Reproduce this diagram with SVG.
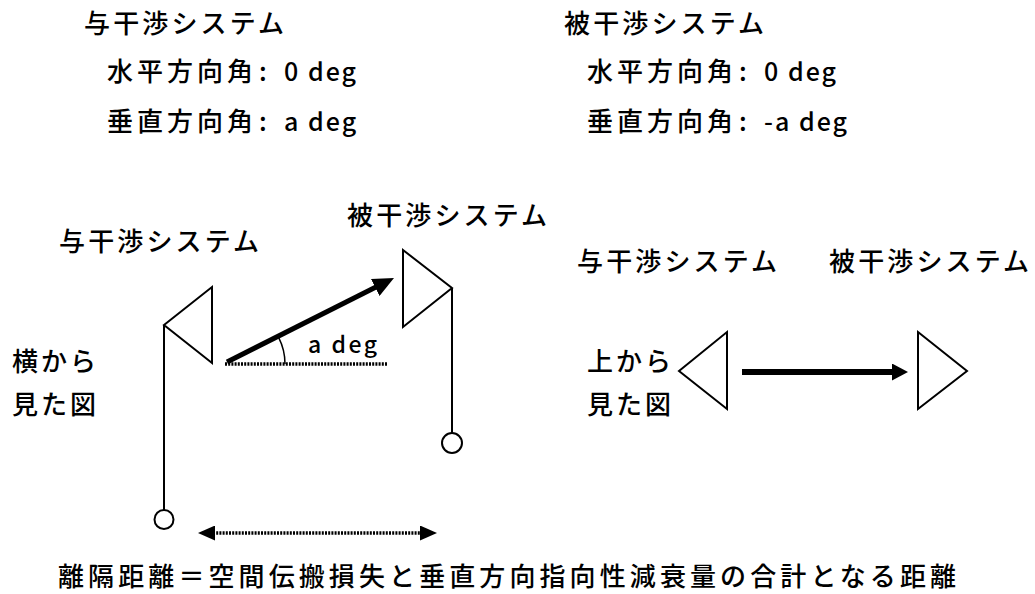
<svg xmlns="http://www.w3.org/2000/svg" width="1035" height="594" viewBox="0 0 1035 594">
  <style>
    text { font-family: "Noto Sans CJK JP", "Noto Sans", sans-serif; fill: #000; font-weight: 500; }
    .jp { font-size: 26px; letter-spacing: 4px; }
    .lat { font-size: 25px; letter-spacing: 2px; }
    .ant { fill: #fff; stroke: #000; stroke-width: 2; stroke-linejoin: miter; }
    .mast { stroke: #000; stroke-width: 2; fill: none; }
    .thick { stroke: #000; stroke-width: 5; fill: none; }
    .dots { stroke: #000; stroke-width: 3.5; stroke-dasharray: 2 1.2; fill: none; }
  </style>
  <defs>
    <marker id="headBig" markerUnits="userSpaceOnUse" viewBox="0 0 21 19" refX="2" refY="9.5" markerWidth="21" markerHeight="19" orient="auto">
      <path d="M0,0 L21,9.5 L0,19 Z" fill="#000"/>
    </marker>
    <marker id="headMid" markerUnits="userSpaceOnUse" viewBox="0 0 16 17" refX="2" refY="8.5" markerWidth="16" markerHeight="17" orient="auto">
      <path d="M0,0 L16,8.5 L0,17 Z" fill="#000"/>
    </marker>
    <marker id="headDot" markerUnits="userSpaceOnUse" viewBox="0 0 17 15" refX="2" refY="7.5" markerWidth="17" markerHeight="15" orient="auto-start-reverse">
      <path d="M0,0 L17,7.5 L0,15 Z" fill="#000"/>
    </marker>
  </defs>

  <g id="info-interferer">
    <text class="jp" x="84" y="33" textLength="200" lengthAdjust="spacing" style="letter-spacing:0">与干渉システム</text>
    <text y="81"><tspan class="jp" x="107">水平方向角</tspan><tspan class="jp" x="259">: </tspan><tspan class="lat" x="284">0 deg</tspan></text>
    <text y="131"><tspan class="jp" x="107">垂直方向角</tspan><tspan class="jp" x="259">: </tspan><tspan class="lat" x="284">a deg</tspan></text>
  </g>

  <g id="info-victim">
    <text class="jp" x="564" y="33" textLength="200" lengthAdjust="spacing" style="letter-spacing:0">被干渉システム</text>
    <text y="81"><tspan class="jp" x="587">水平方向角</tspan><tspan class="jp" x="739">: </tspan><tspan class="lat" x="764">0 deg</tspan></text>
    <text y="131"><tspan class="jp" x="587">垂直方向角</tspan><tspan class="jp" x="739">: </tspan><tspan class="lat" x="764">-a deg</tspan></text>
  </g>

  <g id="side-label">
    <text class="jp" x="12" y="371" style="letter-spacing:3px">横から</text>
    <text class="jp" x="12" y="414" style="letter-spacing:3px">見た図</text>
  </g>

  <g id="side-interferer">
    <text class="jp" x="59" y="251" textLength="200" lengthAdjust="spacing" style="letter-spacing:0">与干渉システム</text>
    <polygon class="ant" points="164,325 212,287 212,363"/>
    <line class="mast" x1="164" y1="325" x2="164" y2="510"/>
    <circle class="mast" cx="164" cy="519.5" r="9.5"/>
  </g>

  <g id="side-victim">
    <text class="jp" x="347" y="225" textLength="200" lengthAdjust="spacing" style="letter-spacing:0">被干渉システム</text>
    <polygon class="ant" points="403,250 452,288 403,327"/>
    <line class="mast" x1="452" y1="288" x2="452" y2="433"/>
    <circle class="mast" cx="452" cy="443" r="10"/>
  </g>

  <g id="top-label">
    <text class="jp" x="587" y="371" style="letter-spacing:3px">上から</text>
    <text class="jp" x="587" y="414" style="letter-spacing:3px">見た図</text>
  </g>

  <g id="top-interferer">
    <text class="jp" x="577" y="271" textLength="200" lengthAdjust="spacing" style="letter-spacing:0">与干渉システム</text>
    <polygon class="ant" points="679,371 727,332 727,409"/>
  </g>

  <g id="top-victim">
    <text class="jp" x="829" y="271" textLength="200" lengthAdjust="spacing" style="letter-spacing:0">被干渉システム</text>
    <polygon class="ant" points="918,332 967,371 918,409"/>
  </g>

  <g id="connectors">
    <line class="thick" x1="227" y1="362" x2="377" y2="286.5" marker-end="url(#headBig)"/>
    <line class="dots" x1="225" y1="364" x2="387" y2="364"/>
    <path class="mast" style="stroke-width:1.5" d="M285,364 A58,58 0 0 0 278.7,337.7"/>
    <line class="thick" style="stroke-width:6" x1="742" y1="372" x2="894" y2="372" marker-end="url(#headMid)"/>
    <line class="dots" x1="213" y1="533" x2="422" y2="533" marker-start="url(#headDot)" marker-end="url(#headDot)"/>
  </g>

  <g id="angle-label">
    <text style="font-size:23px; letter-spacing:2.5px" x="308" y="353">a deg</text>
  </g>

  <g id="distance-label">
    <text class="jp" x="58" y="586" textLength="898" lengthAdjust="spacing" style="letter-spacing:0">離隔距離＝空間伝搬損失と垂直方向指向性減衰量の合計となる距離</text>
  </g>
</svg>
